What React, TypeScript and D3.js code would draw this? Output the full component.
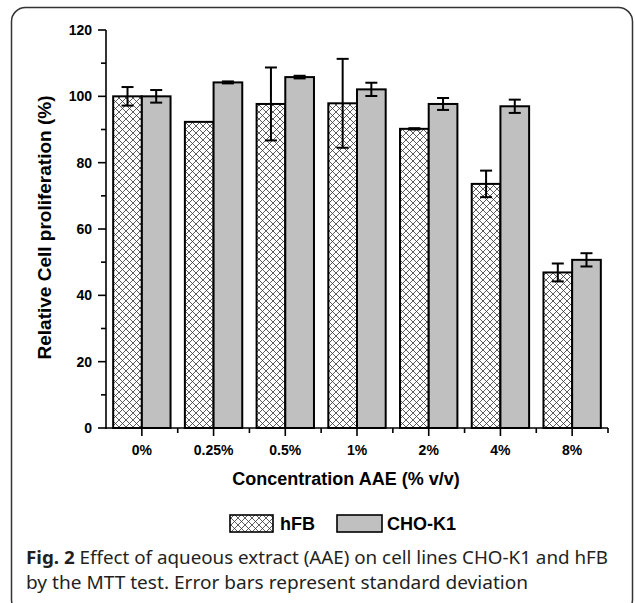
import React from "react";
import * as d3 from "d3";

const categories = ["0%", "0.25%", "0.5%", "1%", "2%", "4%", "8%"];
const seriesNames = ["hFB", "CHO-K1"];
const hfbValues = [100, 92.3, 97.7, 97.9, 90.2, 73.6, 46.9];
const hfbErrors = [2.8, 0, 11, 13.4, 0.2, 4, 2.7];
const choValues = [100, 104.2, 105.8, 102.1, 97.7, 97, 50.7];
const choErrors = [1.9, 0.3, 0.4, 2, 1.8, 2, 2];
const yMajorTicks = [0, 20, 40, 60, 80, 100, 120];

const W = 635;
const H = 603;
const axisFont = "'Liberation Sans', Arial, sans-serif";
const captionFont = "'Noto Sans', 'Open Sans', sans-serif";

const App: React.FC = () => {
  const left = 106;
  const right = 608;
  const top = 30;
  const bottom = 428;

  const x = d3.scaleBand<string>()
    .domain(categories)
    .range([left, right])
    .paddingInner(0.2)
    .paddingOuter(0.1);

  const xs = d3.scaleBand<string>()
    .domain(seriesNames)
    .range([0, x.bandwidth()])
    .padding(0);

  const y = d3.scaleLinear().domain([0, 120]).range([bottom, top]);

  const minorY = d3.range(10, 120, 20);
  const step = x.step();
  const minorX = d3.range(1, categories.length + 1).map(i => left + i * step);

  const rows = categories.map((c, i) => [
    { cat: c, s: "hFB", v: hfbValues[i], e: hfbErrors[i] },
    { cat: c, s: "CHO-K1", v: choValues[i], e: choErrors[i] },
  ]).flat();

  return (
    <svg width={W} height={H} style={{ position: "absolute", left: 0, top: 0, background: "#fff" }}>
      <defs>
        <pattern id="hatch" patternUnits="userSpaceOnUse" width={7} height={7}>
          <rect width={7} height={7} fill="#fff" />
          <path d="M0,0 L7,7 M7,0 L0,7" stroke="#333" strokeWidth={0.8} />
        </pattern>
      </defs>

      {/* panel border */}
      <rect x={11.5} y={7.5} width={621} height={606} rx={14} fill="none" stroke="#333" strokeWidth={1.5} />

      {/* bars */}
      {rows.map((d, i) => {
        const bx = (x(d.cat) || 0) + (xs(d.s) || 0);
        return (
          <rect key={i} x={bx} y={y(d.v)} width={xs.bandwidth()} height={bottom - y(d.v)}
            fill={d.s === "hFB" ? "url(#hatch)" : "#c0c0c0"} stroke="#000" strokeWidth={2} />
        );
      })}

      {/* error bars */}
      {rows.filter(d => d.e > 0).map((d, i) => {
        const cx = (x(d.cat) || 0) + (xs(d.s) || 0) + xs.bandwidth() / 2;
        const y1 = y(d.v + d.e);
        const y2 = y(d.v - d.e);
        return (
          <g key={i} stroke="#000" strokeWidth={2}>
            <line x1={cx} x2={cx} y1={y1} y2={y2} />
            <line x1={cx - 6} x2={cx + 6} y1={y1} y2={y1} />
            <line x1={cx - 6} x2={cx + 6} y1={y2} y2={y2} />
          </g>
        );
      })}

      {/* y axis */}
      <g stroke="#000" strokeWidth={1.6}>
        <line x1={left} x2={left} y1={y(0) + 1} y2={y(120)} />
        {yMajorTicks.map(t => <line key={t} x1={left - 8} x2={left} y1={y(t)} y2={y(t)} />)}
        {minorY.map(t => <line key={t} x1={left - 5} x2={left} y1={y(t)} y2={y(t)} />)}
      </g>
      {yMajorTicks.map(t => (
        <text key={t} x={92} y={y(t)} dy="0.35em" textAnchor="end" fontFamily={axisFont}
          fontWeight="bold" fontSize={14} fill="#000">{t}</text>
      ))}

      {/* x axis */}
      <g stroke="#000" strokeWidth={1.6}>
        <line x1={left} x2={right} y1={bottom} y2={bottom} />
        {categories.map(c => {
          const cx = (x(c) || 0) + x.bandwidth() / 2;
          return <line key={c} x1={cx} x2={cx} y1={bottom} y2={bottom + 8} />;
        })}
        {minorX.map((m, i) => <line key={i} x1={m} x2={m} y1={bottom} y2={bottom + 5} />)}
      </g>
      {categories.map(c => (
        <text key={c} x={(x(c) || 0) + x.bandwidth() / 2} y={455} textAnchor="middle"
          fontFamily={axisFont} fontWeight="bold" fontSize={14} fill="#000">{c}</text>
      ))}

      {/* axis titles */}
      <text x={346} y={485} textAnchor="middle" fontFamily={axisFont} fontWeight="bold" fontSize={18} fill="#000">
        Concentration AAE (% v/v)
      </text>
      <text transform={`translate(51,${(93 + 362) / 2}) rotate(-90)`} textAnchor="middle"
        fontFamily={axisFont} fontWeight="bold" fontSize={19} fill="#000">
        Relative Cell proliferation (%)
      </text>

      {/* legend */}
      <rect x={230} y={515} width={43} height={17} fill="url(#hatch)" stroke="#000" strokeWidth={1.6} />
      <text x={280} y={530} fontFamily={axisFont} fontWeight="bold" fontSize={18} fill="#000">hFB</text>
      <rect x={337} y={515} width={45} height={17} fill="#c0c0c0" stroke="#000" strokeWidth={1.6} />
      <text x={387} y={530} fontFamily={axisFont} fontWeight="bold" fontSize={18} fill="#000">CHO-K1</text>

      {/* caption */}
      <text x={26} y={564} fontFamily={captionFont} fontSize={18} fill="#231f20"
        textLength={582} lengthAdjust="spacingAndGlyphs">
        <tspan fontWeight="bold">Fig. 2</tspan> Effect of aqueous extract (AAE) on cell lines CHO-K1 and hFB
      </text>
      <text x={26} y={589} fontFamily={captionFont} fontSize={18} fill="#231f20"
        textLength={502} lengthAdjust="spacingAndGlyphs">
        by the MTT test. Error bars represent standard deviation
      </text>
    </svg>
  );
};

export default App;
